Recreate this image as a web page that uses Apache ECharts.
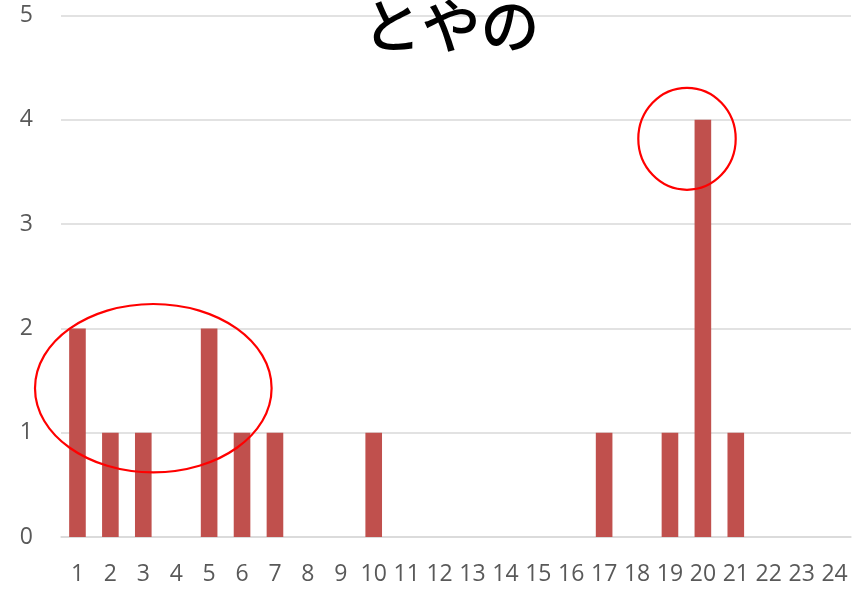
<!DOCTYPE html>
<html>
<head>
<meta charset="utf-8">
<script src="https://cdn.jsdelivr.net/npm/echarts@6/dist/echarts.min.js"></script>
<style>
  html, body { margin: 0; padding: 0; background: #ffffff; }
  #chart { width: 858px; height: 592px; }
</style>
</head>
<body>
<div id="chart"></div>
<script>
// Counts per day (1..24)
const categories = ['1','2','3','4','5','6','7','8','9','10','11','12','13','14','15','16','17','18','19','20','21','22','23','24'];
const counts = [2, 1, 1, 0, 2, 1, 1, 0, 0, 1, 0, 0, 0, 0, 0, 0, 1, 0, 1, 4, 1, 0, 0, 0];
const yTicks = [0, 1, 2, 3, 4, 5];
const titleText = 'とやの';

const chart = echarts.init(document.getElementById('chart'), null, { renderer: 'canvas' });

const labelFont = { fontFamily: '"Open Sans", "Noto Sans", sans-serif', fontSize: 23, color: '#595959' };

chart.setOption({
  animation: false,
  backgroundColor: '#ffffff',
  grid: { left: 61, right: 7, top: 15.5, bottom: 55, containLabel: false },
  xAxis: {
    type: 'category',
    data: categories,
    axisLine: { show: true, lineStyle: { color: '#d9d9d9', width: 1.5 } },
    axisTick: { show: false },
    axisLabel: Object.assign({ interval: 0, margin: 26 }, labelFont)
  },
  yAxis: {
    type: 'value',
    min: yTicks[0],
    max: yTicks[yTicks.length - 1],
    interval: 1,
    axisLine: { show: false },
    axisTick: { show: false },
    splitLine: { lineStyle: { color: '#d9d9d9', width: 1.5 } },
    axisLabel: Object.assign({ margin: 28 }, labelFont)
  },
  series: [{
    type: 'bar',
    data: counts,
    barWidth: '50.5%',
    itemStyle: { color: '#c0504d' }
  }],
  graphic: [
    {
      type: 'text',
      x: 451, y: 26,
      style: {
        text: titleText,
        textAlign: 'center',
        textVerticalAlign: 'middle',
        font: '500 59px "Noto Sans CJK JP", sans-serif',
        fill: '#000000'
      },
      z: 10
    },
    {
      type: 'ellipse',
      shape: { cx: 153.3, cy: 388.2, rx: 118.3, ry: 84.2 },
      style: { fill: 'none', stroke: '#ff0000', lineWidth: 2.2 },
      z: 20
    },
    {
      type: 'ellipse',
      shape: { cx: 687, cy: 138.8, rx: 48.7, ry: 51 },
      style: { fill: 'none', stroke: '#ff0000', lineWidth: 2.2 },
      z: 20
    }
  ]
});
</script>
</body>
</html>
